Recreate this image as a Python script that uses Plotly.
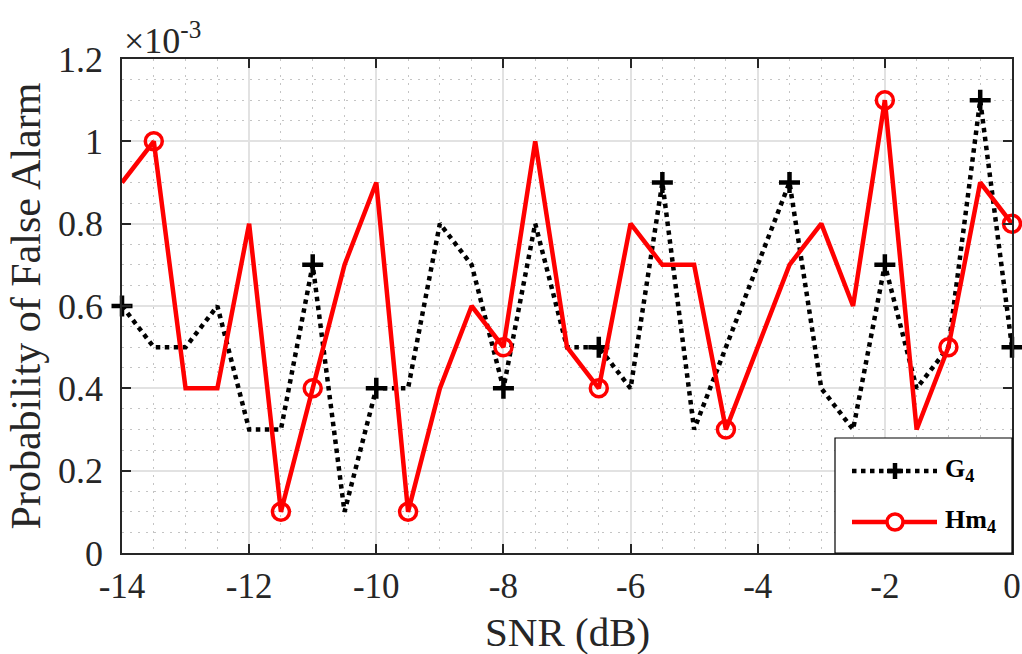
import plotly.graph_objects as go

# Data (probability of false alarm in units of 1e-3)
snr_db = [-14, -13.5, -13, -12.5, -12, -11.5, -11, -10.5, -10, -9.5, -9, -8.5, -8, -7.5,
          -7, -6.5, -6, -5.5, -5, -4.5, -4, -3.5, -3, -2.5, -2, -1.5, -1, -0.5, 0]
pfa_g4 = [0.6, 0.5, 0.5, 0.6, 0.3, 0.3, 0.7, 0.1, 0.4, 0.4, 0.8, 0.7, 0.4, 0.8,
          0.5, 0.5, 0.4, 0.9, 0.3, 0.5, 0.7, 0.9, 0.4, 0.3, 0.7, 0.4, 0.5, 1.1, 0.5]
pfa_hm4 = [0.9, 1.0, 0.4, 0.4, 0.8, 0.1, 0.4, 0.7, 0.9, 0.1, 0.4, 0.6, 0.5, 1.0,
           0.5, 0.4, 0.8, 0.7, 0.7, 0.3, 0.5, 0.7, 0.8, 0.6, 1.1, 0.3, 0.5, 0.9, 0.8]
g4_marker_idx = [0, 6, 8, 12, 15, 17, 21, 24, 27, 28]
hm4_marker_idx = [1, 5, 6, 9, 12, 15, 19, 24, 26, 28]
x_tick_vals = [-14, -12, -10, -8, -6, -4, -2, 0]
x_tick_text = ["-14", "-12", "-10", "-8", "-6", "-4", "-2", "0"]
y_tick_vals = [0, 0.2, 0.4, 0.6, 0.8, 1.0, 1.2]
y_tick_text = ["0", "0.2", "0.4", "0.6", "0.8", "1", "1.2"]

FONT = "Liberation Serif"
AX = "#262626"
BLACK = "#000000"
RED = "#ff0000"

fig = go.Figure()

fig.add_trace(go.Scatter(x=snr_db, y=pfa_g4, mode="lines", name="G4",
                         line=dict(color=BLACK, width=4.5, dash="dot"), showlegend=False))
fig.add_trace(go.Scatter(x=[snr_db[i] for i in g4_marker_idx], y=[pfa_g4[i] for i in g4_marker_idx],
                         mode="markers", showlegend=False, cliponaxis=False,
                         marker=dict(symbol="cross-thin", size=15, color=BLACK,
                                     line=dict(color=BLACK, width=4.5))))
fig.add_trace(go.Scatter(x=snr_db, y=pfa_hm4, mode="lines", name="Hm4",
                         line=dict(color=RED, width=4.5), showlegend=False))
fig.add_trace(go.Scatter(x=[snr_db[i] for i in hm4_marker_idx], y=[pfa_hm4[i] for i in hm4_marker_idx],
                         mode="markers", showlegend=False, cliponaxis=False,
                         marker=dict(symbol="circle-open", size=17, color=RED,
                                     line=dict(color=RED, width=3.5))))

W, H = 1022, 654
L, R, T, B = 122, 10, 59, 101
pw, ph = W - L - R, H - T - B

def px(xp):
    return (xp - L) / pw

def py(yp):
    return (H - B - yp) / ph

shapes = []
shapes.append(dict(type="rect", xref="paper", yref="paper", x0=px(835), x1=1.0, y0=0.0, y1=py(438),
                   fillcolor="white", line=dict(color=BLACK, width=1.2), layer="above"))
shapes.append(dict(type="line", xref="paper", yref="paper", x0=px(852), x1=px(937), y0=py(471), y1=py(471),
                   line=dict(color=BLACK, width=4.5, dash="dot"), layer="above"))
shapes.append(dict(type="line", xref="paper", yref="paper", x0=px(887), x1=px(903), y0=py(471), y1=py(471),
                   line=dict(color=BLACK, width=4.5), layer="above"))
shapes.append(dict(type="line", xref="paper", yref="paper", x0=px(895), x1=px(895), y0=py(463), y1=py(479),
                   line=dict(color=BLACK, width=4.5), layer="above"))
shapes.append(dict(type="line", xref="paper", yref="paper", x0=px(852), x1=px(937), y0=py(522), y1=py(522),
                   line=dict(color=RED, width=4.5), layer="above"))
shapes.append(dict(type="circle", xref="paper", yref="paper", x0=px(887), x1=px(903), y0=py(514), y1=py(530),
                   fillcolor="white", line=dict(color=RED, width=3.5), layer="above"))

annotations = [
    dict(text="<b>G<sub>4</sub></b>", xref="paper", yref="paper", x=px(943), y=py(470), xanchor="left",
         yanchor="middle", showarrow=False, font=dict(family=FONT, size=26, color=BLACK)),
    dict(text="<b>Hm<sub>4</sub></b>", xref="paper", yref="paper", x=px(943), y=py(521), xanchor="left",
         yanchor="middle", showarrow=False, font=dict(family=FONT, size=26, color=BLACK)),
    dict(text="\u00d710<sup>-3</sup>", xref="paper", yref="paper", x=0.0, y=1.0, xanchor="left",
         yanchor="bottom", yshift=-4, showarrow=False, font=dict(family=FONT, size=36, color=AX)),
    dict(text="SNR (dB)", xref="paper", yref="paper", x=0.5, y=-B / ph, xanchor="center",
         yanchor="bottom", yshift=-3, showarrow=False, font=dict(family=FONT, size=41, color=AX)),
]

fig.update_layout(
    width=W, height=H,
    margin=dict(l=L, r=R, t=T, b=B, pad=0),
    paper_bgcolor="white", plot_bgcolor="white",
    font=dict(family=FONT, size=36, color=AX),
    shapes=shapes, annotations=annotations,
    showlegend=False,
)

MINOR_DASH = "2px,6px"

fig.update_xaxes(
    range=[-14, 0], tickvals=x_tick_vals, ticktext=x_tick_text, automargin=False,
    showline=True, linecolor=AX, linewidth=1.5, mirror="ticks",
    ticks="inside", ticklen=9, tickwidth=1.5, tickcolor=AX,
    showgrid=True, gridcolor="#e2e2e2", gridwidth=1.5,
    minor=dict(dtick=0.5, showgrid=True, gridcolor="#c4c4c4", griddash=MINOR_DASH, gridwidth=1),
    zeroline=False, tickfont=dict(family=FONT, size=35, color=AX), ticklabelstandoff=1,
)
fig.update_yaxes(
    range=[0, 1.2], tickvals=y_tick_vals, ticktext=y_tick_text, automargin=False,
    showline=True, linecolor=AX, linewidth=1.5, mirror="ticks",
    ticks="inside", ticklen=9, tickwidth=1.5, tickcolor=AX,
    showgrid=True, gridcolor="#e2e2e2", gridwidth=1.5,
    minor=dict(dtick=0.05, showgrid=True, gridcolor="#c4c4c4", griddash=MINOR_DASH, gridwidth=1),
    zeroline=False, tickfont=dict(family=FONT, size=36, color=AX), ticklabelstandoff=10,
    title=dict(text="Probability of False Alarm", font=dict(family=FONT, size=42, color=AX), standoff=4),
)

fig.write_html("out.html")
